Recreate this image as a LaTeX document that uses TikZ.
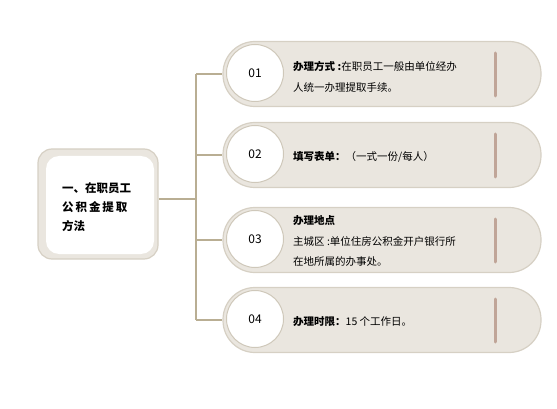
\documentclass[tikz,border=0pt]{standalone}
\usepackage{fontspec}
\setmainfont{Noto Sans CJK SC}
\newfontfamily\cjk{Noto Sans CJK SC}
\usetikzlibrary{positioning}
\definecolor{pillfill}{HTML}{EAE6DF}
\definecolor{pillline}{HTML}{D6D0C4}
\definecolor{linkcol}{HTML}{B9AE93}
\definecolor{barcol}{HTML}{C0A598}
\definecolor{circline}{HTML}{CFC8BA}
\begin{document}
\begin{tikzpicture}[x=1pt,y=-1pt,
  pill/.style={draw=pillline,line width=1.2pt,fill=pillfill,rounded corners=32pt,minimum width=318pt,minimum height=65pt,inner sep=0pt},
  numcirc/.style={circle,draw=circline,line width=1pt,fill=white,minimum size=57pt,inner sep=0pt,font=\cjk\fontsize{12}{14}\selectfont},
  itemtext/.style={anchor=west,align=left,inner sep=0pt,font=\cjk\fontsize{10.5}{20.5}\selectfont},
  accent/.style={draw=barcol,line width=3pt,line cap=round},
  link/.style={draw=linkcol,line width=2pt}]
\useasboundingbox (0,0) rectangle (557,409);
% left box
\node[draw=pillline,line width=1.2pt,fill=pillfill,rounded corners=14pt,minimum width=120pt,minimum height=110pt] (mainout) at (98,204) {};
\node[fill=white,rounded corners=13pt,minimum width=108pt,minimum height=98pt] (main) at (100,205) {};
\node[anchor=west,align=left,inner sep=0pt,font=\cjk\bfseries\fontsize{11.5}{19}\selectfont] (maintext) at (62,207) {一、在职员工\\公\,积\,金\,提\,取\\方法};
% pills
\foreach \i/\y in {1/74,2/155,3/240,4/320}{
  \node[pill] (p\i) at (382,\y) {};
  \node[numcirc] (c\i) at (255,\y-1) {0\i};
  \coordinate (b\i) at (196,\y);
  \draw[accent] ([xshift=-46pt,yshift=-22pt]p\i.east) -- ([xshift=-46pt,yshift=21pt]p\i.east);
}
\coordinate (bm) at (196,199);
\draw[link] (mainout.east|-bm) -- (bm);
\draw[link] (b1) -- (b4);
\foreach \i in {1,2,3,4}{ \draw[link] (b\i) -- (p\i.west); }
% texts
\node[itemtext] (t1) at (293,77) {\textbf{办理方式 :}在职员工一般由单位经办\\人统一办理提取手续。};
\node[itemtext] (t2) at (293,157) {\textbf{填写表单：}（一式一份/每人）};
\node[itemtext] (t3) at (293,241) {\textbf{办理地点}\\主城区 :单位住房公积金开户银行所\\在地所属的办事处。};
\node[itemtext] (t4) at (293,322) {\textbf{办理时限：}15 个工作日。};
\end{tikzpicture}
\end{document}
